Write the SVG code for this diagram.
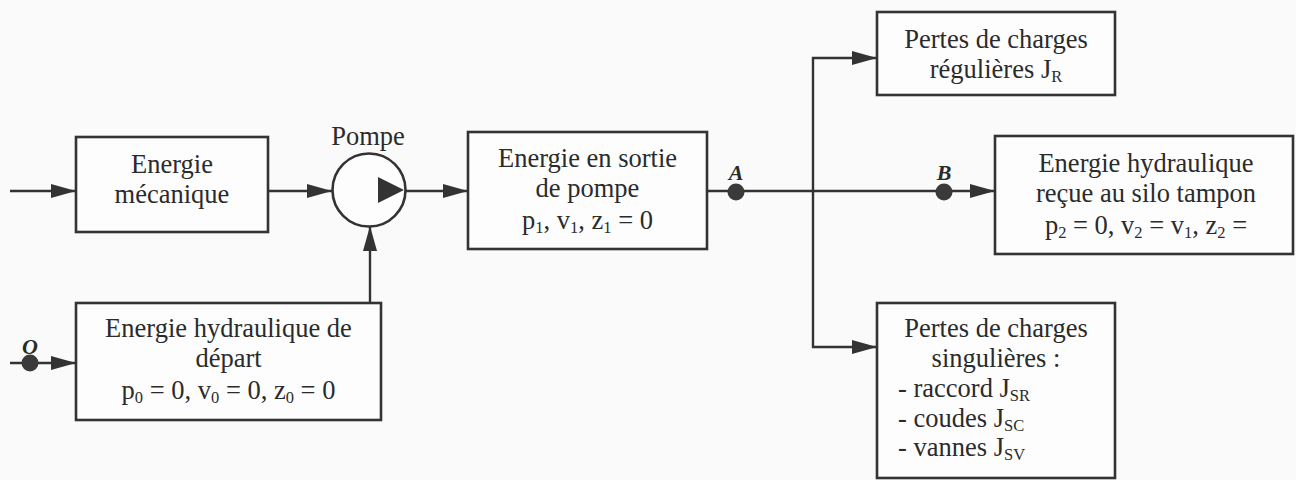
<svg xmlns="http://www.w3.org/2000/svg" width="1296" height="480" viewBox="0 0 1296 480">
  <style>
    .box { fill: #fdfdfd; stroke: #333; stroke-width: 2.6; }
    .wire { fill: none; stroke: #333; stroke-width: 2.4; }
    text { font-family: "Liberation Serif", "Times New Roman", serif; }
    .t { font-size: 26.5px; fill: #2b2b2b; }
    .c { text-anchor: middle; }
    .sub { font-size: 16.5px; }
    .pt { font-size: 22px; font-weight: bold; font-style: italic; fill: #2b2b2b; text-anchor: middle; }
    .dot { fill: #3a3a3a; }
  </style>
  <defs>
    <marker id="arrow" markerUnits="userSpaceOnUse" markerWidth="26" markerHeight="16" refX="25" refY="8" orient="auto">
      <path d="M0,1 L25,8 L0,15 Z" fill="#333"/>
    </marker>
  </defs>
  <rect width="1296" height="480" fill="#fafafa"/>

  <!-- connectors -->
  <g id="connectors">
    <line class="wire" x1="10" y1="191" x2="76" y2="191" marker-end="url(#arrow)"/>
    <line class="wire" x1="268" y1="191" x2="332" y2="191" marker-end="url(#arrow)"/>
    <line class="wire" x1="406" y1="191" x2="468" y2="191" marker-end="url(#arrow)"/>
    <line class="wire" x1="370" y1="303" x2="370" y2="226" marker-end="url(#arrow)"/>
    <line class="wire" x1="10" y1="363" x2="76" y2="363" marker-end="url(#arrow)"/>
    <line class="wire" x1="707" y1="191" x2="995" y2="191" marker-end="url(#arrow)"/>
    <line class="wire" x1="813" y1="57" x2="813" y2="348"/>
    <polyline class="wire" points="812,58 877,58" marker-end="url(#arrow)"/>
    <polyline class="wire" points="812,347 877,347" marker-end="url(#arrow)"/>
  </g>

  <!-- reference points -->
  <g id="point-O">
    <circle class="dot" cx="30" cy="363" r="8.5"/>
    <text class="pt" x="30" y="354">O</text>
  </g>
  <g id="point-A">
    <circle class="dot" cx="736" cy="192" r="8.5"/>
    <text class="pt" x="736" y="180">A</text>
  </g>
  <g id="point-B">
    <circle class="dot" cx="944" cy="192" r="8.5"/>
    <text class="pt" x="944" y="180">B</text>
  </g>

  <!-- nodes -->
  <g id="energie-mecanique">
    <rect class="box" x="76" y="137" width="192" height="95"/>
    <text class="t c" x="172" y="173">Energie</text>
    <text class="t c" x="172" y="203">mécanique</text>
  </g>

  <g id="pompe">
    <circle cx="369" cy="190" r="36.5" fill="#fdfdfd" stroke="#333" stroke-width="2.6"/>
    <path d="M378,177 L404,190 L378,203 Z" fill="#333"/>
    <text class="t c" x="368" y="145">Pompe</text>
  </g>

  <g id="energie-depart">
    <rect class="box" x="76" y="303" width="305" height="117"/>
    <text class="t c" x="228.5" y="337">Energie hydraulique de</text>
    <text class="t c" x="228.5" y="367">départ</text>
    <text class="t c" x="228.5" y="399">p<tspan class="sub" dy="4">0</tspan><tspan dy="-4"> = 0, v</tspan><tspan class="sub" dy="4">0</tspan><tspan dy="-4"> = 0, z</tspan><tspan class="sub" dy="4">0</tspan><tspan dy="-4"> = 0</tspan></text>
  </g>

  <g id="energie-sortie">
    <rect class="box" x="468" y="132" width="239" height="117"/>
    <text class="t c" x="587.5" y="167">Energie en sortie</text>
    <text class="t c" x="587.5" y="197">de pompe</text>
    <text class="t c" x="587.5" y="229">p<tspan class="sub" dy="4">1</tspan><tspan dy="-4">, v</tspan><tspan class="sub" dy="4">1</tspan><tspan dy="-4">, z</tspan><tspan class="sub" dy="4">1</tspan><tspan dy="-4"> = 0</tspan></text>
  </g>

  <g id="pertes-regulieres">
    <rect class="box" x="877" y="12" width="238" height="83"/>
    <text class="t c" x="996" y="48">Pertes de charges</text>
    <text class="t c" x="996" y="78">régulières J<tspan class="sub" dy="4">R</tspan></text>
  </g>

  <g id="energie-silo">
    <rect class="box" x="995" y="136" width="298" height="118"/>
    <text class="t c" x="1146" y="172">Energie hydraulique</text>
    <text class="t c" x="1146" y="202">reçue au silo tampon</text>
    <text class="t c" x="1146" y="234">p<tspan class="sub" dy="4">2</tspan><tspan dy="-4"> = 0, v</tspan><tspan class="sub" dy="4">2</tspan><tspan dy="-4"> = v</tspan><tspan class="sub" dy="4">1</tspan><tspan dy="-4">, z</tspan><tspan class="sub" dy="4">2</tspan><tspan dy="-4"> =</tspan></text>
  </g>

  <g id="pertes-singulieres">
    <rect class="box" x="877" y="303" width="238" height="175"/>
    <text class="t c" x="996" y="337">Pertes de charges</text>
    <text class="t c" x="996" y="367">singulières :</text>
    <text class="t" x="898" y="397">- raccord J<tspan class="sub" dy="4">SR</tspan></text>
    <text class="t" x="898" y="427">- coudes J<tspan class="sub" dy="4">SC</tspan></text>
    <text class="t" x="898" y="456">- vannes J<tspan class="sub" dy="4">SV</tspan></text>
  </g>
</svg>
